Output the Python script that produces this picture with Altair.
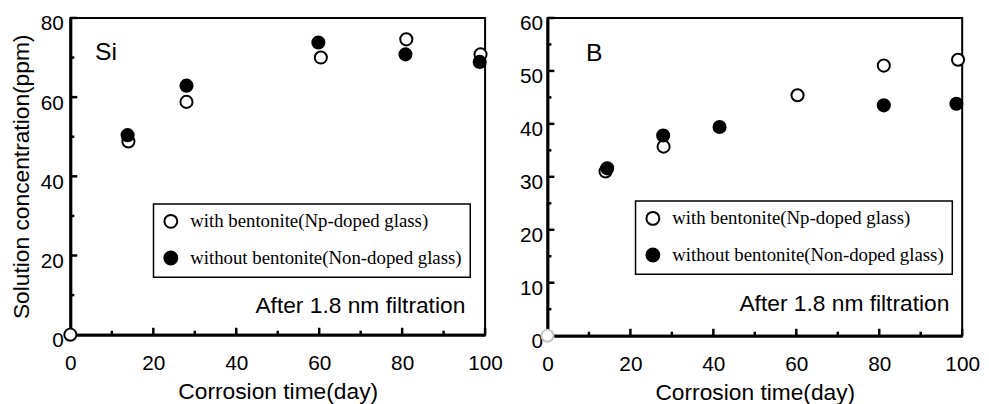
import altair as alt
import pandas as pd

SERIES = ["with bentonite(Np-doped glass)", "without bentonite(Non-doped glass)"]

# Si panel (days, ppm)
si_with_day = [0, 14, 28, 60.4, 81, 98.9]
si_with_ppm = [0, 48.8, 58.8, 70.0, 74.6, 70.8]
si_without_day = [13.8, 28, 59.8, 80.8, 98.7]
si_without_ppm = [50.4, 62.9, 73.8, 70.8, 68.9]

# B panel (days, ppm)
b_with_day = [0, 14, 28, 60.3, 81.1, 99]
b_with_ppm = [0, 31.0, 35.7, 45.4, 51.0, 52.1]
b_without_day = [14.4, 27.9, 41.5, 81.1, 98.6]
b_without_ppm = [31.6, 37.8, 39.4, 43.5, 43.8]

x_major = [0, 20, 40, 60, 80, 100]
x_minor = [10, 30, 50, 70, 90]
si_y_major = [0, 20, 40, 60, 80]
si_y_minor = [10, 30, 50, 70]
b_y_major = [0, 10, 20, 30, 40, 50, 60]
b_y_minor = [5, 15, 25, 35, 45, 55]

SANS = "Liberation Sans"
SERIF = "Liberation Serif"


def make_df(wd, wv, nd, nv):
    rows = []
    for d, v in zip(wd, wv):
        rows.append({"day": d, "ppm": v, "series": SERIES[0]})
    for d, v in zip(nd, nv):
        rows.append({"day": d, "ppm": v, "series": SERIES[1]})
    return pd.DataFrame(rows)


def panel(df, ymax, y_major, y_minor, elem, y_title, legend_x, legend_y,
          elem_x, elem_y, filt_x, filt_y, W, H, ylab_pad, origin_color):
    xs = alt.Scale(domain=[0, 100], nice=False, zero=False)
    ys = alt.Scale(domain=[0, ymax], nice=False)

    x_axis = alt.Axis(orient="bottom", values=x_major, title="Corrosion time(day)",
                      ticks=False, tickSize=0, grid=False, domainColor="black",
                      domainWidth=3, labelFont=SANS, labelFontSize=21,
                      labelColor="black", labelPadding=18, labelFlush=False,
                      labelOverlap=False, titleFont=SANS, titleFontSize=23,
                      titleFontWeight="normal", titleColor="black", titlePadding=7)
    y_axis = alt.Axis(orient="left", values=y_major, title=y_title, ticks=False,
                      tickSize=0, grid=False, domainColor="black", domainWidth=3,
                      labelFont=SANS, labelFontSize=21, labelColor="black",
                      labelPadding=ylab_pad, labelOffset=6, labelFlush=False,
                      labelOverlap=False, titleFont=SANS, titleFontSize=23,
                      titleFontWeight="normal", titleColor="black", titlePadding=7)

    # inward tick marks: short line symbols placed on the axes through the scales
    def xticks(vals, ln):
        return alt.Chart(pd.DataFrame({"t": vals})).mark_point(
            shape="stroke", size=ln * ln, angle=90, strokeWidth=2.5,
            color="black", filled=False, opacity=1, yOffset=-ln / 2).encode(
            x=alt.X("t:Q", scale=xs, axis=x_axis),
            y=alt.datum(0, scale=ys, axis=y_axis))

    def yticks(vals, ln):
        return alt.Chart(pd.DataFrame({"t": vals})).mark_point(
            shape="stroke", size=ln * ln, angle=0, strokeWidth=2.5,
            color="black", filled=False, opacity=1, xOffset=ln / 2).encode(
            y=alt.Y("t:Q", scale=ys, axis=y_axis),
            x=alt.datum(0, scale=xs, axis=x_axis))

    elem_text = alt.Chart(pd.DataFrame({"label": [elem]})).mark_text(
        align="left", baseline="middle", font=SANS, fontSize=25, color="black"
    ).encode(x=alt.value(elem_x), y=alt.value(elem_y), text="label:N")

    filt_text = alt.Chart(pd.DataFrame({"label": ["After 1.8 nm filtration"]})).mark_text(
        align="right", baseline="middle", font=SANS, fontSize=23, color="black"
    ).encode(x=alt.value(filt_x), y=alt.value(filt_y), text="label:N")

    points = alt.Chart(df).mark_point(
        shape="circle", filled=True, size=150, strokeWidth=2, opacity=1
    ).encode(
        x=alt.X("day:Q", scale=xs, axis=x_axis),
        y=alt.Y("ppm:Q", scale=ys, axis=y_axis),
        fill=alt.Fill("series:N",
                      scale=alt.Scale(domain=SERIES, range=["white", "black"]),
                      legend=alt.Legend(orient="none", legendX=legend_x, legendY=legend_y,
                                        title=None, strokeColor="black", fillColor="white",
                                        padding=8, rowPadding=14, labelFont=SERIF,
                                        labelFontSize=19, labelColor="black",
                                        labelOffset=10, labelLimit=500,
                                        symbolType="circle", symbolSize=170,
                                        symbolStrokeColor="black", symbolStrokeWidth=2,
                                        cornerRadius=0)),
        stroke=alt.condition(alt.datum.day == 0, alt.value(origin_color), alt.value("black")),
    )

    return alt.layer(
        xticks(x_major, 7), xticks(x_minor, 4),
        yticks(y_major, 7), yticks(y_minor, 4),
        elem_text, filt_text, points,
    ).properties(width=W, height=H)


si_df = make_df(si_with_day, si_with_ppm, si_without_day, si_without_ppm)
b_df = make_df(b_with_day, b_with_ppm, b_without_day, b_without_ppm)

left = panel(si_df, 80, si_y_major, si_y_minor, "Si", "Solution concentration(ppm)",
             84, 188, 25, 34, 399, 291, 419, 320, 7, "black")
right = panel(b_df, 60, b_y_major, b_y_minor, "B", None,
              89, 185, 39, 35, 406, 289, 419, 321, 5, "#c4c4c4")

chart = alt.hconcat(left, right, spacing=14).resolve_scale(
    fill="independent", x="independent", y="independent"
).resolve_legend(fill="independent").properties(
    padding={"left": 1, "top": 2, "right": 0, "bottom": 0},
    background="white",
).configure_view(stroke="black", strokeWidth=2).configure_legend(strokeWidth=1.5)

chart.save("out.html", embed_options={"renderer": "svg", "actions": False})
